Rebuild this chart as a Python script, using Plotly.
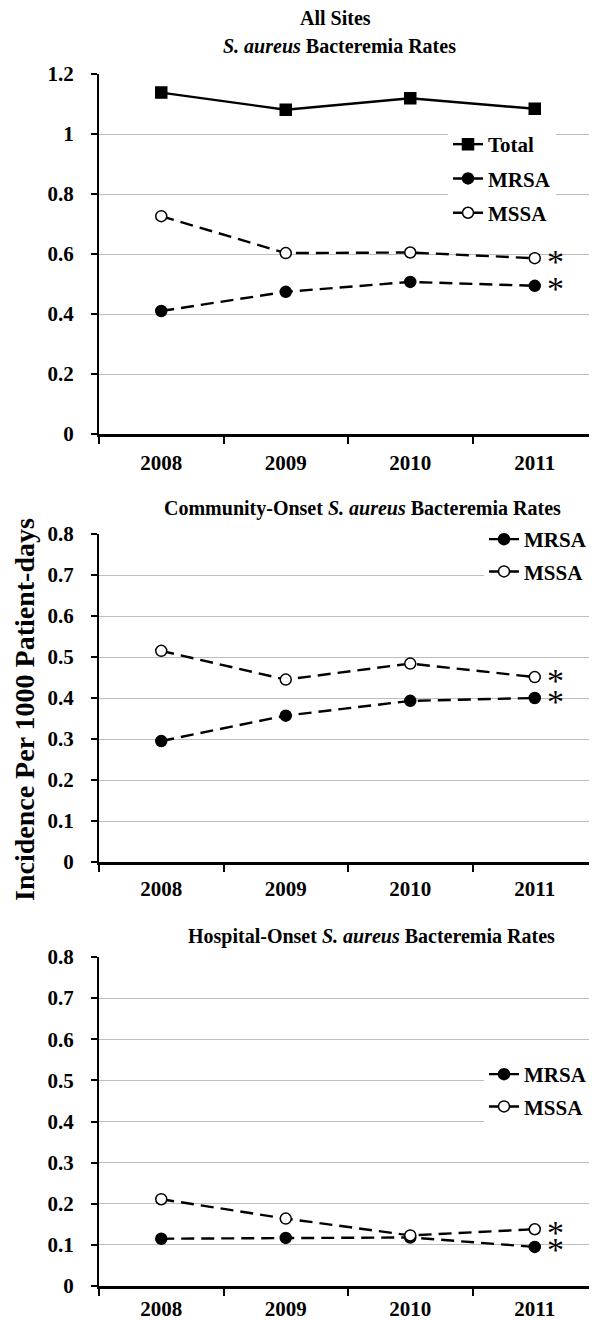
import plotly.graph_objects as go

years = ["2008", "2009", "2010", "2011"]

all_total = [1.138, 1.081, 1.119, 1.084]
all_mrsa = [0.410, 0.474, 0.507, 0.494]
all_mssa = [0.726, 0.603, 0.605, 0.586]

co_mrsa = [0.295, 0.357, 0.393, 0.400]
co_mssa = [0.515, 0.445, 0.484, 0.451]

ho_mrsa = [0.115, 0.117, 0.118, 0.095]
ho_mssa = [0.211, 0.164, 0.123, 0.138]

panel_titles = [
    "<b>All Sites</b>",
    "<b><i>S. aureus</i> Bacteremia Rates</b>",
    "<b>Community-Onset <i>S. aureus</i> Bacteremia Rates</b>",
    "<b>Hospital-Onset <i>S. aureus</i> Bacteremia Rates</b>",
]
y_title = "<b>Incidence Per 1000 Patient-days</b>"

FONT = "Liberation Serif"
OFF = 8                      # default page body margin
W, H = 597 - OFF, 1320 - OFF
BLACK = "#000000"
DASH = "13px,7px"


def py(page_px):
    return 1 - (page_px - OFF) / H


def px(page_px):
    return (page_px - OFF) / W


fig = go.Figure()


def add_series(x_ax, y_ax, name, vals, symbol, fill, dash, legend, group):
    fig.add_trace(go.Scatter(
        x=years, y=vals, name=name, xaxis=x_ax, yaxis=y_ax,
        mode="lines+markers",
        line=dict(color=BLACK, width=2.4, dash=dash),
        marker=dict(symbol=symbol, size=11,
                    color=fill, line=dict(color=BLACK, width=1.5)),
        legend=legend, legendgroup=group,
    ))


add_series("x", "y", "Total", all_total, "square", BLACK, "solid", "legend", "a1")
add_series("x", "y", "MRSA", all_mrsa, "circle", BLACK, DASH, "legend", "a2")
add_series("x", "y", "MSSA", all_mssa, "circle", "white", DASH, "legend", "a3")

add_series("x2", "y2", "MRSA", co_mrsa, "circle", BLACK, DASH, "legend2", "b1")
add_series("x2", "y2", "MSSA", co_mssa, "circle", "white", DASH, "legend2", "b2")

add_series("x3", "y3", "MRSA", ho_mrsa, "circle", BLACK, DASH, "legend3", "c1")
add_series("x3", "y3", "MSSA", ho_mssa, "circle", "white", DASH, "legend3", "c2")

xdom = [px(99), 1.0]
ydoms = [
    [py(434), py(74)],
    [py(862), py(534)],
    [py(1286), py(957)],
]
yranges = [[0, 1.2], [0, 0.8], [0, 0.8]]
ydticks = [0.2, 0.1, 0.1]
xstandoffs = [8, 6, 2]

tickfont = dict(family=FONT, size=21, color=BLACK, weight="bold")

layout = dict(
    width=W, height=H,
    margin=dict(l=0, r=0, t=0, b=0, autoexpand=False),
    paper_bgcolor="white", plot_bgcolor="white",
    font=dict(family=FONT, color=BLACK),
    annotations=[],
)

for i in range(3):
    sx = "" if i == 0 else str(i + 1)
    layout["xaxis" + sx] = dict(
        domain=xdom, anchor="y" + sx, type="category",
        range=[-0.5, 3.5], showgrid=False, automargin=False,
        showline=True, linecolor=BLACK, linewidth=2.5,
        ticks="outside", tickson="boundaries", ticklen=7, tickwidth=2,
        tickcolor=BLACK, tickfont=tickfont, ticklabelstandoff=xstandoffs[i],
        zeroline=False, fixedrange=True,
    )
    layout["yaxis" + sx] = dict(
        domain=ydoms[i], anchor="x" + sx, range=yranges[i],
        dtick=ydticks[i], tick0=0, automargin=False,
        showgrid=True, gridcolor="#bdbdbd", gridwidth=1,
        showline=True, linecolor=BLACK, linewidth=2,
        ticks="outside", ticklen=6, tickwidth=2, tickcolor=BLACK,
        tickfont=tickfont, ticklabelstandoff=13,
        zeroline=False, fixedrange=True,
    )

legfont = dict(family=FONT, size=21, color=BLACK, weight="bold")
layout["legend"] = dict(
    x=px(448), xanchor="left", y=py(124), yanchor="top",
    bgcolor="white", font=legfont, traceorder="grouped",
    tracegroupgap=4, itemclick=False, itemdoubleclick=False,
)
layout["legend2"] = dict(
    x=px(484), xanchor="left", y=py(519), yanchor="top",
    bgcolor="white", font=legfont, traceorder="grouped",
    tracegroupgap=2, itemclick=False, itemdoubleclick=False,
)
layout["legend3"] = dict(
    x=px(484), xanchor="left", y=py(1054), yanchor="top",
    bgcolor="white", font=legfont, traceorder="grouped",
    tracegroupgap=2, itemclick=False, itemdoubleclick=False,
)

title_font = dict(family=FONT, size=20, color=BLACK)
title_specs = [(panel_titles[0], 335, 18), (panel_titles[1], 339, 46),
               (panel_titles[2], 362, 508), (panel_titles[3], 371, 936)]
for txt, xpx, ypx in title_specs:
    layout["annotations"].append(dict(
        text=txt, x=px(xpx), y=py(ypx), xref="paper", yref="paper",
        xanchor="center", yanchor="middle", showarrow=False, font=title_font,
    ))

layout["annotations"].append(dict(
    text=y_title, x=px(24), y=py(710), xref="paper", yref="paper",
    xanchor="center", yanchor="middle", textangle=-90, showarrow=False,
    font=dict(family=FONT, size=28, color=BLACK),
))

last = len(years) - 1
star_specs = [("x", "y", all_mssa[-1]), ("x", "y", all_mrsa[-1]),
              ("x2", "y2", co_mssa[-1]), ("x2", "y2", co_mrsa[-1]),
              ("x3", "y3", ho_mssa[-1]), ("x3", "y3", ho_mrsa[-1])]
for xr, yr, v in star_specs:
    layout["annotations"].append(dict(
        text="*", x=last, y=v, xref=xr, yref=yr,
        xanchor="left", yanchor="middle", xshift=10, yshift=-3,
        showarrow=False, font=dict(family=FONT, size=34, color=BLACK),
    ))

fig.update_layout(**layout)
fig.write_html("out.html")
